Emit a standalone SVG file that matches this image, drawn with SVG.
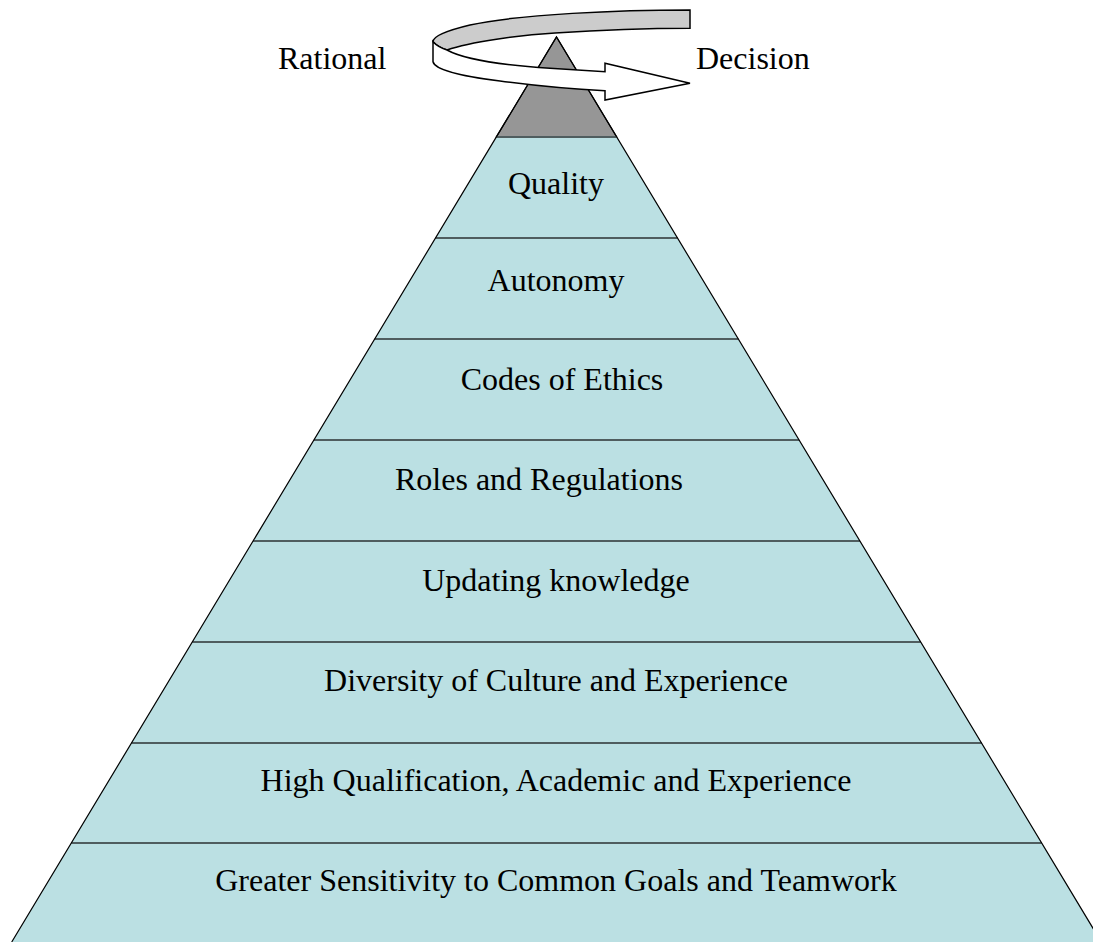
<svg xmlns="http://www.w3.org/2000/svg" width="1093" height="942" viewBox="0 0 1093 942">
<style>
.layer{fill:#bbe0e3;stroke:none}
.div{stroke:#4f5d5f;stroke-width:2.2}
.edge{fill:none;stroke:#000;stroke-width:1.2}
.lbl{font-family:"Liberation Serif","Times New Roman",serif;font-size:32px;fill:#000;text-anchor:middle}
.side{font-family:"Liberation Serif","Times New Roman",serif;font-size:32px;fill:#000}
.band{stroke:#000;stroke-width:1.5;stroke-linejoin:miter}
</style>
<rect width="1093" height="942" fill="#fff"/>
<g id="apex">
<polygon points="556.5,37 616.7,137 496.3,137" fill="#969696" stroke="#000" stroke-width="1.2"/>
</g>
<g id="layer-quality">
<polygon class="layer" points="496.3,137 616.7,137 677.5,238 435.5,238"/>
<text class="lbl" x="556" y="194">Quality</text>
</g>
<g id="layer-autonomy">
<polygon class="layer" points="435.5,238 677.5,238 738.3,339 374.7,339"/>
<text class="lbl" x="556" y="291">Autonomy</text>
</g>
<g id="layer-ethics">
<polygon class="layer" points="374.7,339 738.3,339 799.1,440 313.9,440"/>
<text class="lbl" x="562" y="390">Codes of Ethics</text>
</g>
<g id="layer-roles">
<polygon class="layer" points="313.9,440 799.1,440 859.9,541 253.1,541"/>
<text class="lbl" x="539" y="490">Roles and Regulations</text>
</g>
<g id="layer-knowledge">
<polygon class="layer" points="253.1,541 859.9,541 920.7,642 192.3,642"/>
<text class="lbl" x="556" y="591">Updating knowledge</text>
</g>
<g id="layer-diversity">
<polygon class="layer" points="192.3,642 920.7,642 981.5,743 131.5,743"/>
<text class="lbl" x="556" y="691">Diversity of Culture and Experience</text>
</g>
<g id="layer-qualification">
<polygon class="layer" points="131.5,743 981.5,743 1041.7,843 71.3,843"/>
<text class="lbl" x="556" y="791">High Qualification, Academic and Experience</text>
</g>
<g id="layer-teamwork">
<polygon class="layer" points="71.3,843 1041.7,843 1101.3,942 11.7,942"/>
<text class="lbl" x="556" y="891">Greater Sensitivity to Common Goals and Teamwork</text>
</g>
<g id="connectors">
<line class="div" x1="496.3" y1="137" x2="616.7" y2="137"/>
<line class="div" x1="435.5" y1="238" x2="677.5" y2="238"/>
<line class="div" x1="374.7" y1="339" x2="738.3" y2="339"/>
<line class="div" x1="313.9" y1="440" x2="799.1" y2="440"/>
<line class="div" x1="253.1" y1="541" x2="859.9" y2="541"/>
<line class="div" x1="192.3" y1="642" x2="920.7" y2="642"/>
<line class="div" x1="131.5" y1="743" x2="981.5" y2="743"/>
<line class="div" x1="71.3" y1="843" x2="1041.7" y2="843"/>
<path class="edge" d="M11.7,942 L556.5,37 L1101.3,942"/>
</g>
<g id="rotation-arrow">
<path class="band" fill="#cccccc" d="M690,10 L690,28.3 C650,28.3 600,30 555,33 C520,35 470,42 447,50 C441,48 436,45 433,41.7 C433,37 445,31 470,25 C520,14 620,10 690,10 Z"/>
<path class="band" fill="#ffffff" d="M433,41.7 L433,61.7 C435,70 460,76 500,81 C530,85 570,89 605,90.7 L605,100 L690,83.3 L605,63.3 L605,71.7 L550,68.3 C500,65 465,60 447,50 C441,48 436,45 433,41.7 Z"/>
</g>
<g id="label-rational"><text class="side" x="278" y="69">Rational</text></g>
<g id="label-decision"><text class="side" x="696" y="69">Decision</text></g>
</svg>
